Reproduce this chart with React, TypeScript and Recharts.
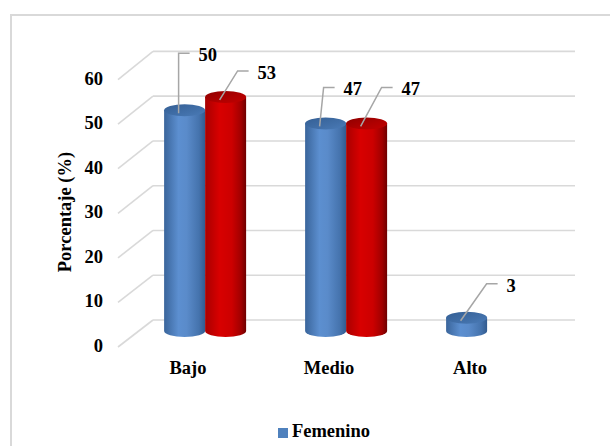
import { BarChart, Bar, XAxis, YAxis, CartesianGrid, Legend, LabelList } from "recharts";

const categories = ["Bajo", "Medio", "Alto"];
const femenino = [50, 47, 3];
const masculino: (number | null)[] = [53, 47, null];
const yTicks = [0, 10, 20, 30, 40, 50, 60];

// leader line offsets (dx, dy) for each data label
const femeninoLeaders = [
  [0, -60],
  [4, -39],
  [26, -37],
];
const masculinoLeaders = [
  [18, -29],
  [21, -39],
  [0, 0],
];

const data = categories.map((categoria, i) => ({
  categoria,
  Femenino: femenino[i],
  Masculino: masculino[i],
}));

const W = 610;
const H = 446;
const PLOT_LEFT = 134.5;
const PLOT_RIGHT = 557.5;
const PLOT_TOP = 66;
const PLOT_BOTTOM = 331;
const Y_MAX = 60;

const FONT = '"Times New Roman", "Liberation Serif", "DejaVu Serif", serif';
const GRID = "#d9d9d9";
const textStyle = { fontFamily: FONT, fontWeight: 700, fontSize: 18.5 };

// back wall lines, shifted up and right for the 3D look
const BackLine = (props: any) => {
  const { y1 } = props;
  const v = ((PLOT_BOTTOM - y1) / (PLOT_BOTTOM - PLOT_TOP)) * Y_MAX;
  const backY = y1 - 11 - v * 0.06;
  return (
    <line
      key={props.key}
      x1={PLOT_LEFT + 18.5}
      y1={backY}
      x2={PLOT_RIGHT + 17.5}
      y2={backY}
      stroke={GRID}
      strokeWidth={1.6}
    />
  );
};

// front tick label plus the floor diagonal back to the wall
const YTick = (props: any) => {
  const { y, payload } = props;
  const v = payload.value;
  const frontY = y + 15 - v * 0.04;
  const backY = y - 11 - v * 0.06;
  return (
    <g>
      <line
        x1={PLOT_LEFT - 16.5}
        y1={frontY + 1}
        x2={PLOT_LEFT + 18.5}
        y2={backY}
        stroke={GRID}
        strokeWidth={1.6}
      />
      <text
        x={PLOT_LEFT - 31.5}
        y={frontY}
        textAnchor="end"
        dominantBaseline="central"
        style={textStyle}
        fill="#000"
      >
        {v}
      </text>
    </g>
  );
};

const XTick = (props: any) => {
  const { x, payload } = props;
  return (
    <text
      x={x - 17}
      y={368}
      textAnchor="middle"
      dominantBaseline="central"
      style={textStyle}
      fill="#000"
    >
      {payload.value}
    </text>
  );
};

const YTitle = () => {
  const cx = PLOT_LEFT - 70;
  const cy = 212;
  return (
    <text
      x={cx}
      y={cy}
      transform={`rotate(-90 ${cx} ${cy})`}
      textAnchor="middle"
      dominantBaseline="central"
      style={textStyle}
      fill="#000"
    >
      Porcentaje (%)
    </text>
  );
};

const Cylinder = (props: any) => {
  const { x, y, width, height, value, body, top } = props;
  if (value == null || !(height > 0)) return <g />;
  const rx = width / 2;
  const ry = 6;
  const b = y + height;
  return (
    <g>
      <path
        d={`M${x},${y} L${x},${b} A${rx},${ry} 0 0 0 ${x + width},${b} L${x + width},${y} Z`}
        fill={body}
      />
      <ellipse cx={x + rx} cy={y} rx={rx} ry={ry} fill={top} />
    </g>
  );
};

const leaderLabel = (offsets: number[][]) => (props: any) => {
  const { x, y, width, value, index } = props;
  if (value == null) return null;
  const [dx, dy] = offsets[index];
  const sx = x + width / 2 - 6;
  const sy = y + 3;
  const ex = sx + dx;
  const ey = sy + dy;
  return (
    <g>
      <polyline
        points={`${sx},${sy} ${ex},${ey} ${ex + 11},${ey}`}
        fill="none"
        stroke="#a6a6a6"
        strokeWidth={1.5}
      />
      <text x={ex + 20} y={ey + 2} dominantBaseline="central" style={textStyle} fill="#000">
        {value}
      </text>
    </g>
  );
};

export default function App() {
  return (
    <div
      style={{
        position: "absolute",
        left: 0,
        top: 0,
        width: W,
        height: H,
        background: "#fff",
        overflow: "hidden",
      }}
    >
      <div
        style={{
          position: "absolute",
          left: 10,
          top: 14,
          width: 700,
          height: 600,
          border: `2px solid ${GRID}`,
        }}
      />
      <div style={{ position: "absolute", left: 0, top: 0 }}>
        <BarChart
          width={W}
          height={H}
          data={data}
          margin={{ top: PLOT_TOP, right: W - PLOT_RIGHT, left: PLOT_LEFT - 60, bottom: H - PLOT_BOTTOM - 30 }}
          barCategoryGap="21%"
          barGap={0}
        >
          <defs>
            <linearGradient id="blueBody" x1="0" y1="0" x2="1" y2="0">
              <stop offset="0%" stopColor="#3a659b" />
              <stop offset="35%" stopColor="#5c8fd0" />
              <stop offset="55%" stopColor="#5a8bca" />
              <stop offset="85%" stopColor="#4573ad" />
              <stop offset="100%" stopColor="#325b8f" />
            </linearGradient>
            <linearGradient id="blueTop" x1="0" y1="0" x2="1" y2="1">
              <stop offset="0%" stopColor="#345f94" />
              <stop offset="60%" stopColor="#416fa8" />
              <stop offset="100%" stopColor="#4a7bb7" />
            </linearGradient>
            <linearGradient id="redBody" x1="0" y1="0" x2="1" y2="0">
              <stop offset="0%" stopColor="#a80000" />
              <stop offset="35%" stopColor="#d80000" />
              <stop offset="65%" stopColor="#cc0000" />
              <stop offset="88%" stopColor="#a00000" />
              <stop offset="100%" stopColor="#6e0000" />
            </linearGradient>
            <linearGradient id="redTop" x1="0" y1="0" x2="1" y2="1">
              <stop offset="0%" stopColor="#8e0000" />
              <stop offset="60%" stopColor="#b00000" />
              <stop offset="100%" stopColor="#c00000" />
            </linearGradient>
          </defs>
          <CartesianGrid vertical={false} horizontal={BackLine} />
          <XAxis
            dataKey="categoria"
            axisLine={false}
            tickLine={false}
            height={30}
            tick={XTick}
          />
          <YAxis
            domain={[0, Y_MAX]}
            ticks={yTicks}
            interval={0}
            axisLine={false}
            tickLine={false}
            width={60}
            tick={YTick}
            label={{ content: YTitle }}
          />
          <Legend
            verticalAlign="middle"
            align="center"
            layout="horizontal"
            iconType="square"
            iconSize={10}
            wrapperStyle={{ top: 421, left: 24, width: W }}
            formatter={(value: string) => (
              <span style={{ ...textStyle, color: "#000" }}>{value}</span>
            )}
          />
          <Bar
            dataKey="Femenino"
            fill="#4f81bd"
            isAnimationActive={false}
            shape={(p: any) => <Cylinder {...p} body="url(#blueBody)" top="url(#blueTop)" />}
          >
            <LabelList dataKey="Femenino" content={leaderLabel(femeninoLeaders)} />
          </Bar>
          <Bar
            dataKey="Masculino"
            fill="#c00000"
            legendType="none"
            isAnimationActive={false}
            shape={(p: any) => <Cylinder {...p} body="url(#redBody)" top="url(#redTop)" />}
          >
            <LabelList dataKey="Masculino" content={leaderLabel(masculinoLeaders)} />
          </Bar>
        </BarChart>
      </div>
    </div>
  );
}
